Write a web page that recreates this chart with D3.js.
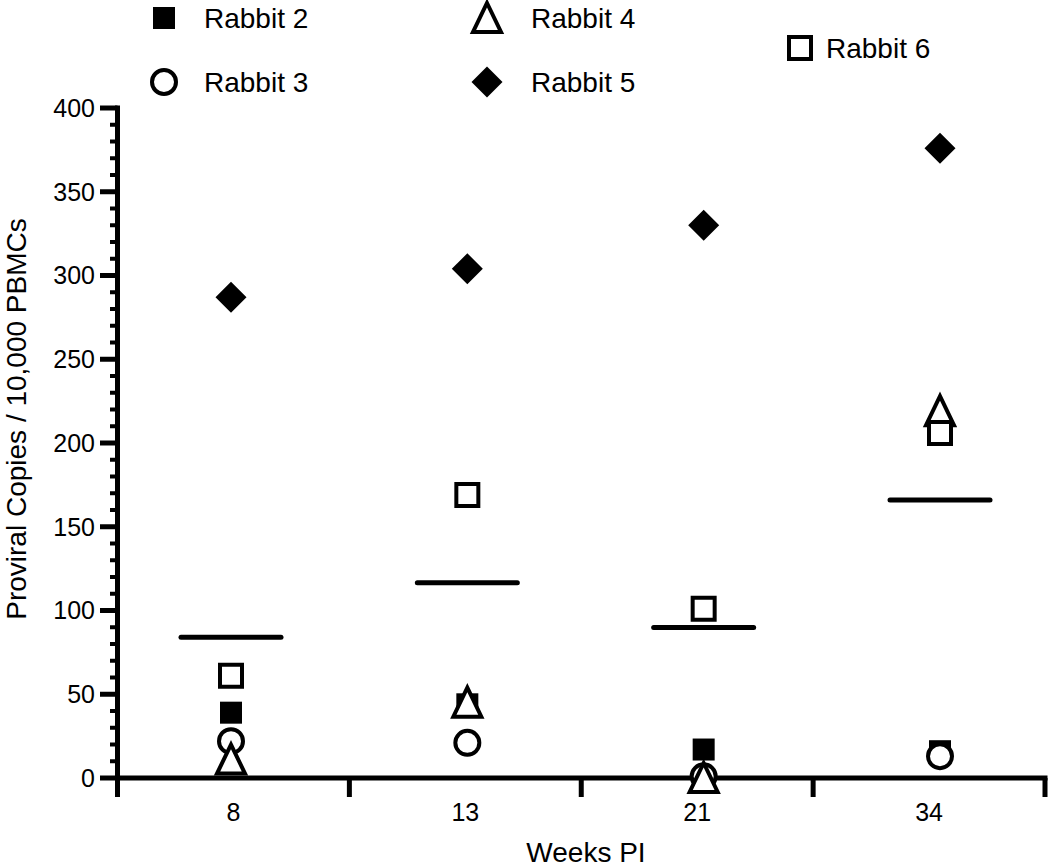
<!DOCTYPE html>
<html>
<head>
<meta charset="utf-8">
<script src="https://cdn.jsdelivr.net/npm/d3@7"></script>
<style>
  html, body { margin: 0; padding: 0; background: #fff; }
  svg { display: block; font-family: "Liberation Sans", Arial, Helvetica, sans-serif; }
</style>
</head>
<body>
<svg id="chart" width="1050" height="868"></svg>
<script>
// ---- data ----
const weeks = ["8", "13", "21", "34"];
const rabbit2 = [39, 44, 17, 16];
const rabbit3 = [22, 21, 1, 13];
const rabbit4 = [11, 45, 0, 219];
const rabbit5 = [287, 304, 330, 376];
const rabbit6 = [61, 169, 101, 206];
const seriesNames = ["Rabbit 2", "Rabbit 3", "Rabbit 4", "Rabbit 5", "Rabbit 6"];
const yTicks = [0, 50, 100, 150, 200, 250, 300, 350, 400];
const xTitle = "Weeks PI";
const yTitle = "Proviral Copies / 10,000 PBMCs";

// ---- layout ----
const svg = d3.select("#chart");
const axisLeftX = 117.5, axisRightX = 1045, y0 = 778, yTop = 108;
const lw = 5;

const x = d3.scaleBand().domain(weeks).range([axisLeftX, axisRightX]).padding(0);
const xp = d3.scalePoint().domain(weeks).range([231, 940]);
const y = d3.scaleLinear().domain([0, 400]).range([y0, yTop]);

// marker shapes
const shapes = {
  fsquare: () => { const h = 11; return `M${-h},${-h}H${h}V${h}H${-h}Z`; },
  osquare: () => { const h = 11; return `M${-h},${-h}H${h}V${h}H${-h}Z`; },
  circle: () => { const r = 12; return `M${r},0A${r},${r} 0 1,1 ${-r},0A${r},${r} 0 1,1 ${r},0Z`; },
  triangle: () => `M0,-15L14,14L-14,14Z`,
  diamond: () => `M0,-15.5L15.5,0L0,15.5L-15.5,0Z`
};
const styles = {
  fsquare: { fill: "#000", stroke: "none", sw: 0 },
  osquare: { fill: "#fff", stroke: "#000", sw: 4 },
  circle: { fill: "#fff", stroke: "#000", sw: 4 },
  triangle: { fill: "#fff", stroke: "#000", sw: 4 },
  diamond: { fill: "#000", stroke: "none", sw: 0 }
};
const series = [
  { name: seriesNames[0], values: rabbit2, shape: "fsquare" },
  { name: seriesNames[1], values: rabbit3, shape: "circle" },
  { name: seriesNames[2], values: rabbit4, shape: "triangle" },
  { name: seriesNames[3], values: rabbit5, shape: "diamond" },
  { name: seriesNames[4], values: rabbit6, shape: "osquare" }
];

function drawMarker(g, shape, cx, cy) {
  const st = styles[shape];
  g.append("path")
    .attr("d", shapes[shape]())
    .attr("transform", `translate(${cx},${cy})`)
    .attr("fill", st.fill)
    .attr("stroke", st.stroke)
    .attr("stroke-width", st.sw)
    .attr("stroke-linejoin", "miter");
}

// ---- y axis ----
const gy = svg.append("g");
d3.range(0, 401, 10).forEach(v => {
  const major = v % 50 === 0;
  gy.append("line")
    .attr("x1", major ? 100 : 110).attr("x2", axisLeftX)
    .attr("y1", y(v)).attr("y2", y(v))
    .attr("stroke", "#000").attr("stroke-width", major ? 5 : 4);
});
gy.append("line")
  .attr("x1", axisLeftX).attr("x2", axisLeftX)
  .attr("y1", y(400) - 2.5).attr("y2", 797)
  .attr("stroke", "#000").attr("stroke-width", lw);
gy.selectAll("text.yt").data(yTicks).enter().append("text")
  .attr("class", "yt")
  .attr("x", 95).attr("y", d => y(d))
  .attr("dy", "0.35em")
  .attr("text-anchor", "end")
  .attr("font-size", 25)
  .text(d => d);

// ---- x axis ----
const gx = svg.append("g");
gx.append("line")
  .attr("x1", axisLeftX).attr("x2", axisRightX + 2.5)
  .attr("y1", y0).attr("y2", y0)
  .attr("stroke", "#000").attr("stroke-width", lw);
const bounds = weeks.map(w => x(w)).concat([x(weeks[weeks.length - 1]) + x.bandwidth()]);
bounds.forEach((bx, i) => {
  if (i === 0) return;
  gx.append("line")
    .attr("x1", bx).attr("x2", bx)
    .attr("y1", y0).attr("y2", 797)
    .attr("stroke", "#000").attr("stroke-width", lw);
});
gx.selectAll("text.xt").data(weeks).enter().append("text")
  .attr("class", "xt")
  .attr("x", d => x(d) + x.bandwidth() / 2)
  .attr("y", 821)
  .attr("text-anchor", "middle")
  .attr("font-size", 25)
  .text(d => d);

// axis titles
svg.append("text")
  .attr("x", 586).attr("y", 862)
  .attr("text-anchor", "middle")
  .attr("font-size", 28)
  .text(xTitle);
svg.append("text")
  .attr("transform", `translate(26,419) rotate(-90)`)
  .attr("text-anchor", "middle")
  .attr("font-size", 28)
  .text(yTitle);

// ---- mean lines ----
const means = weeks.map((w, i) => d3.mean(series, s => s.values[i]));
svg.append("g").selectAll("line").data(weeks).enter().append("line")
  .attr("x1", d => xp(d) - 50).attr("x2", d => xp(d) + 50)
  .attr("y1", (d, i) => y(means[i])).attr("y2", (d, i) => y(means[i]))
  .attr("stroke", "#000").attr("stroke-width", 5).attr("stroke-linecap", "round");

// ---- points ----
const gp = svg.append("g");
series.forEach(s => {
  weeks.forEach((w, i) => drawMarker(gp, s.shape, xp(w), y(s.values[i])));
});

// ---- legend ----
const legendPos = [
  { mx: 164, ty: 28 },
  { mx: 164, ty: 92 },
  { mx: 487, ty: 28 },
  { mx: 487, ty: 92 },
  { mx: 800, ty: 58 }
];
const textOffsets = [40, 40, 44, 44, 26];
const gl = svg.append("g");
series.forEach((s, i) => {
  const p = legendPos[i];
  drawMarker(gl, s.shape, p.mx, p.ty - 10);
  gl.append("text")
    .attr("x", p.mx + textOffsets[i]).attr("y", p.ty)
    .attr("font-size", 28)
    .text(s.name);
});
</script>
</body>
</html>
